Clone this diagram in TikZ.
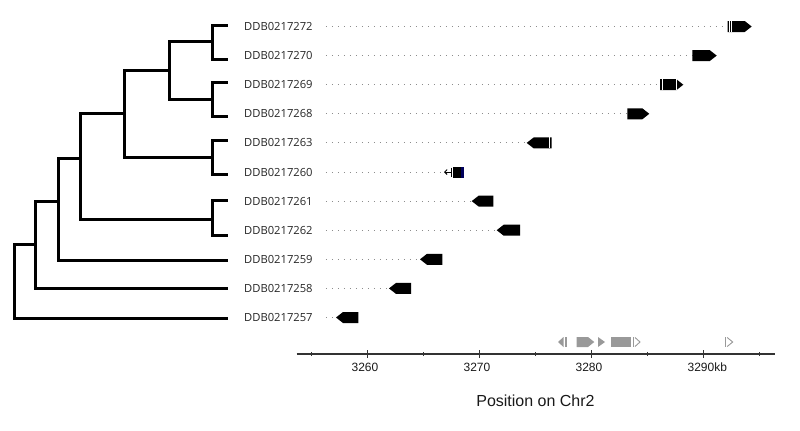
\documentclass[tikz,border=0pt]{standalone}
\usepackage{fontspec}
\setmainfont{Open Sans}
\newfontfamily\axisfont{Liberation Sans}
\usetikzlibrary{arrows.meta}
\newcommand\drawGeneR[3]{\fill[genefill] (#1,#3-5.5) -- (#2-7,#3-5.5) -- (#2,#3) -- (#2-7,#3+5.5) -- (#1,#3+5.5) -- cycle;}
\newcommand\drawGeneL[3]{\fill[genefill] (#2,#3-5.5) -- (#1+7,#3-5.5) -- (#1,#3) -- (#1+7,#3+5.5) -- (#2,#3+5.5) -- cycle;}
\begin{document}
\begin{tikzpicture}[x=1bp,y=-1bp,
  tree/.style={line width=3bp, line join=miter},
  lab/.style={anchor=west, inner sep=0pt, font=\fontsize{11.2bp}{13bp}\selectfont, text=black!85},
  dots/.style={draw=black!45, line width=0.9bp, dash pattern=on 0.9bp off 5.1bp},
  genefill/.style={fill=black},
  gap/.style={draw=white, line width=0.7bp},
  trk/.style={fill=black!40},
  trkline/.style={draw=black!40, line width=0.9bp},
  axisline/.style={draw=black!80, line width=1.3bp},
  majtick/.style={draw=black!80, line width=1.5bp},
  mintick/.style={draw=black!80, line width=1.2bp},
  ticklab/.style={anchor=base west, inner sep=0pt, font=\axisfont\fontsize{12bp}{14bp}\selectfont, text=black!90},
  axtitle/.style={anchor=base, inner sep=0pt, font=\axisfont\fontsize{16bp}{19bp}\selectfont, text=black!90}
]
\useasboundingbox (0,0) rectangle (800,430);
% ---------- tree ----------
\coordinate (l1) at (228,25);
\coordinate (l2) at (228,59.3);
\coordinate (l3) at (228,82.3);
\coordinate (l4) at (228,116.7);
\coordinate (l5) at (228,140);
\coordinate (l6) at (228,174);
\coordinate (l7) at (228,200);
\coordinate (l8) at (228,235.3);
\coordinate (l9) at (228,260);
\coordinate (l10) at (228,288.7);
\coordinate (l11) at (228,318.3);
\coordinate (c1) at (212,41.7);
\coordinate (c2) at (212,99);
\coordinate (n12) at (169,70.7);
\coordinate (c3) at (212,157.7);
\coordinate (n123) at (124,113.3);
\coordinate (c4) at (212,219);
\coordinate (n1234) at (80,158.3);
\coordinate (n5) at (58.3,201.7);
\coordinate (n6) at (35.7,244.3);
\coordinate (root) at (14,281.3);
\draw[tree] (c1) |- (l1);
\draw[tree] (c1) |- (l2);
\draw[tree] (c2) |- (l3);
\draw[tree] (c2) |- (l4);
\draw[tree] (n12) |- (c1);
\draw[tree] (n12) |- (c2);
\draw[tree] (c3) |- (l5);
\draw[tree] (c3) |- (l6);
\draw[tree] (n123) |- (n12);
\draw[tree] (n123) |- (c3);
\draw[tree] (c4) |- (l7);
\draw[tree] (c4) |- (l8);
\draw[tree] (n1234) |- (n123);
\draw[tree] (n1234) |- (c4);
\draw[tree] (n5) |- (n1234);
\draw[tree] (n5) |- (l9);
\draw[tree] (n6) |- (n5);
\draw[tree] (n6) |- (l10);
\draw[tree] (root) |- (n6);
\draw[tree] (root) |- (l11);
% ---------- labels ----------
\node[lab] (t1) at (244,26.5) {DDB0217272};
\node[lab] (t2) at (244,55.6) {DDB0217270};
\node[lab] (t3) at (244,84.7) {DDB0217269};
\node[lab] (t4) at (244,113.8) {DDB0217268};
\node[lab] (t5) at (244,142.9) {DDB0217263};
\node[lab] (t6) at (244,172) {DDB0217260};
\node[lab] (t7) at (244,201.1) {DDB0217261};
\node[lab] (t8) at (244,230.2) {DDB0217262};
\node[lab] (t9) at (244,259.3) {DDB0217259};
\node[lab] (t10) at (244,288.4) {DDB0217258};
\node[lab] (t11) at (244,317.5) {DDB0217257};
% ---------- gene start points ----------
\coordinate (g1) at (727.7,26.5);
\coordinate (g2) at (692.3,55.6);
\coordinate (g3) at (660,84.7);
\coordinate (g4) at (627.3,113.8);
\coordinate (g5) at (526.7,142.9);
\coordinate (g6) at (444,172);
\coordinate (g7) at (471.7,201.1);
\coordinate (g8) at (496.7,230.2);
\coordinate (g9) at (420,259.3);
\coordinate (g10) at (389,288.4);
\coordinate (g11) at (336,317.5);
\foreach \i in {1,...,11} {\draw[dots] ([xshift=13bp]t\i.east) -- (g\i);}
% ---------- genes ----------
\drawGeneR{727.7}{751.7}{26.5}
\draw[gap] (729.4,21) -- (729.4,32);
\draw[gap] (731.3,21) -- (731.3,32);
\drawGeneR{692.3}{716.7}{55.6}
\drawGeneR{660}{683.3}{84.7}
\draw[gap] (662,79.2) -- (662,90.2);
\draw[gap] (676.6,79.2) -- (676.6,90.2);
\drawGeneR{627.3}{649.3}{113.8}
\drawGeneL{526.7}{551.7}{142.9}
\draw[gap] (549.4,137.4) -- (549.4,148.4);
% DDB0217260
\draw[line width=0.9bp, -{Straight Barb[length=2.5bp,width=5bp]}] (451,172) -- (g6);
\draw[line width=0.9bp] (451,167.5) -- (451,176.5);
\fill[black] (452.8,167) rectangle (461.2,177.5);
\fill[black!40!blue!60!black] (461.2,167) rectangle (464,177.5);
\drawGeneL{471.7}{493.3}{201.1}
\drawGeneL{496.7}{520}{230.2}
\drawGeneL{420}{442.3}{259.3}
\drawGeneL{389}{411}{288.4}
\drawGeneL{336}{358.3}{317.5}
% ---------- gray track ----------
\fill[trk] (558,342) -- (563.5,337) -- (563.5,347) -- cycle;
\fill[trk] (564.6,337) rectangle (567,347);
\fill[trk] (576.7,337) -- (588,337) -- (594.3,342) -- (588,347) -- (576.7,347) -- cycle;
\fill[trk] (598,337) -- (605,342) -- (598,347) -- cycle;
\fill[trk] (611,337) rectangle (631.3,347);
\draw[trkline] (633,337) -- (633,347);
\draw[trkline] (635,337.5) -- (640,342) -- (635,346.5);
\draw[trkline] (725,337) -- (725,347);
\draw[trkline] (727.2,337.5) -- (732.7,342) -- (727.2,346.5);
% ---------- axis ----------
\coordinate (ax0) at (296.7,354);
\coordinate (ax1) at (775,354);
\draw[axisline] (ax0) -- (ax1);
\foreach \k in {0,1,2,3} {\draw[majtick] (367.3+112*\k,350) -- (367.3+112*\k,358);}
\foreach \k in {0,1,2,3,4} {\draw[mintick] (311.3+112*\k,352) -- (311.3+112*\k,356);}
\node[ticklab] (k1) at (351.4,371.7) {3260};
\node[ticklab] (k2) at (463.4,371.7) {3270};
\node[ticklab] (k3) at (575.4,371.7) {3280};
\node[ticklab] (k4) at (687.4,371.7) {3290kb};
\node[axtitle] (xt) at (535.5,406) {Position on Chr2};
\end{tikzpicture}
\end{document}
